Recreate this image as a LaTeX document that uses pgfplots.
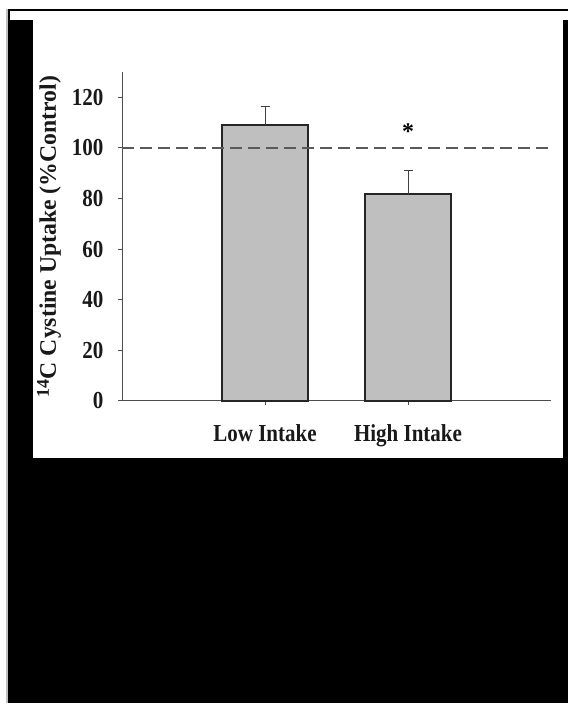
\documentclass[border=0pt]{standalone}
\usepackage{fontspec}
\setmainfont{Liberation Serif}
\newfontfamily\condfont{Liberation Serif}[FakeStretch=0.86]
\usepackage{pgfplots}
\pgfplotsset{compat=1.18}
\begin{document}
\begin{tikzpicture}[x=1bp,y=1bp]
\useasboundingbox (0,0) rectangle (568,707);
\fill[white] (0,0) rectangle (568,707);
\fill[black] (8,4) rectangle (568,698);
\fill[white] (10,687) rectangle (568,696);
\fill[white] (33,249) rectangle (563,687);
\draw[black!25, line width=1.2bp] (7,4) -- (7,698);
\begin{axis}[
  at={(122bp,306bp)}, anchor=south west,
  scale only axis, width=429bp, height=329bp,
  xmin=0, xmax=3, ymin=0, ymax=130,
  axis x line=bottom, axis y line=left,
  axis line style={-, black!70, line width=1bp},
  xtick={1,2}, xticklabels={Low Intake, High Intake},
  ytick={0,20,40,60,80,100,120},
  tick align=outside, major tick length=4bp,
  tick style={black!70, line width=1bp},
  ticklabel style={font=\condfont\fontsize{24.5}{27}\selectfont\bfseries, text=black!90},
  /pgf/number format/assume math mode=true,
  xticklabel style={yshift=-16bp},
  yticklabel style={xshift=-11bp},
  ylabel={\raisebox{0.3em}{\fontsize{18}{18}\selectfont 14}C Cystine Uptake (\%Control)},
  ylabel style={at={(axis description cs:-0.17,0.5)}, anchor=center, font=\fontsize{23.8}{26}\selectfont\bfseries, text=black!90},
  clip=false,
]
\addplot[ybar, bar width=86bp, fill=gray!50, draw=black!85, line width=1.3bp,
  error bars/.cd, y dir=plus, y explicit,
  error bar style={line width=1bp, black!75},
  error mark options={rotate=90, mark size=4.5bp, line width=1bp, black!75}]
  coordinates {(1,109.1) +- (0,7.4) (2,81.8) +- (0,9.3)};
\addplot[sharp plot, no marks, black!65, line width=1.2bp, dash pattern=on 12bp off 6bp] coordinates {(0,100) (3,100)};
\node[font=\fontsize{24}{26}\selectfont\bfseries] at (axis cs:2,106.3) {*};
\end{axis}
\end{tikzpicture}
\end{document}
